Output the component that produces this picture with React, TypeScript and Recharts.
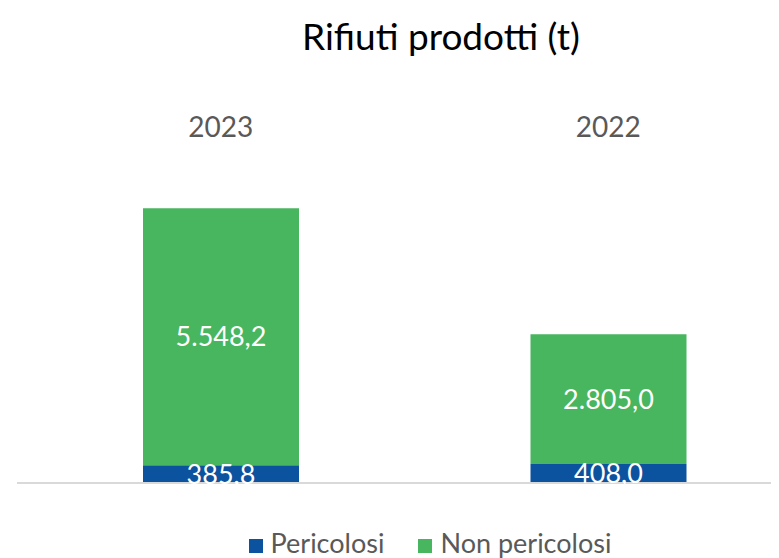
import { Bar, BarChart, LabelList, Legend, XAxis, YAxis } from "recharts"

// values (tonnes)
const years = ["2023", "2022"]
const pericolosi = [385.8, 408.0]
const nonPericolosi = [5548.2, 2805.0]

const seriesKeys = ["pericolosi", "nonPericolosi"]
const seriesNames = { pericolosi: "Pericolosi", nonPericolosi: "Non pericolosi" }
const colors = { pericolosi: "#0b529f", nonPericolosi: "#47b65e" }

const data = years.map((year, i) => ({
  year,
  pericolosi: pericolosi[i],
  nonPericolosi: nonPericolosi[i],
}))

const FONT = "Lato, 'Open Sans', sans-serif"

// 5548.2 -> "5.548,2"
const formatIt = (v: any) => {
  const [int, dec] = Number(v).toFixed(1).split(".")
  return int.replace(/\B(?=(\d{3})+(?!\d))/g, ".") + "," + dec
}

function ChartLegend({ payload }: any) {
  const items = [...(payload || [])].sort(
    (a: any, b: any) => seriesKeys.indexOf(a.dataKey) - seriesKeys.indexOf(b.dataKey)
  )
  return (
    <div style={{ display: "flex", justifyContent: "center", alignItems: "center", fontFamily: FONT }}>
      {items.map((entry: any, i: number) => (
        <div key={entry.value} style={{ display: "flex", alignItems: "center", marginLeft: i === 0 ? 0 : 34 }}>
          <span style={{ width: 14, height: 14, background: entry.color, display: "inline-block", marginRight: 8, marginTop: 6 }} />
          <span style={{ fontSize: 27, lineHeight: "28px", color: "#595959" }}>{entry.value}</span>
        </div>
      ))}
    </div>
  )
}

export default function App() {
  return (
    <div style={{ position: "relative", width: 771, height: 550, overflow: "hidden" }}>
      <div
        style={{
          position: "absolute",
          left: 433,
          top: 8,
          transform: "translateX(-50%)",
          whiteSpace: "nowrap",
          fontFamily: FONT,
          fontSize: 37,
          lineHeight: "40px",
          color: "#000",
          zIndex: 1,
        }}
      >
        Rifiuti prodotti (t)
      </div>
      <BarChart width={794} height={550} data={data} margin={{ top: 0, right: 0, left: 9, bottom: 46 }}>
        <XAxis
          xAxisId="top"
          dataKey="year"
          orientation="top"
          height={151}
          padding={{ left: 10, right: 0 }}
          axisLine={false}
          tickLine={false}
          tickSize={0}
          tickMargin={22}
          tick={{ fill: "#595959", fontSize: 28, fontFamily: FONT }}
        />
        <XAxis
          dataKey="year"
          height={1}
          padding={{ left: 10, right: 0 }}
          axisLine={{ stroke: "#d9d9d9", strokeWidth: 2 }}
          tickLine={false}
          tick={false}
        />
        <YAxis hide domain={[0, 7000]} />
        <Legend
          content={<ChartLegend />}
          wrapperStyle={{ top: 521, left: 222, width: 400, height: 28 }}
        />
        <Bar
          dataKey="pericolosi"
          name={seriesNames.pericolosi}
          stackId="a"
          fill={colors.pericolosi}
          barSize={156}
          isAnimationActive={false}
        >
          <LabelList dataKey="pericolosi" position="center" fill="#fff" fontSize={27} fontFamily={FONT} formatter={formatIt} />
        </Bar>
        <Bar
          dataKey="nonPericolosi"
          name={seriesNames.nonPericolosi}
          stackId="a"
          fill={colors.nonPericolosi}
          barSize={156}
          isAnimationActive={false}
        >
          <LabelList dataKey="nonPericolosi" position="center" fill="#fff" fontSize={27} fontFamily={FONT} formatter={formatIt} />
        </Bar>
      </BarChart>
    </div>
  )
}
